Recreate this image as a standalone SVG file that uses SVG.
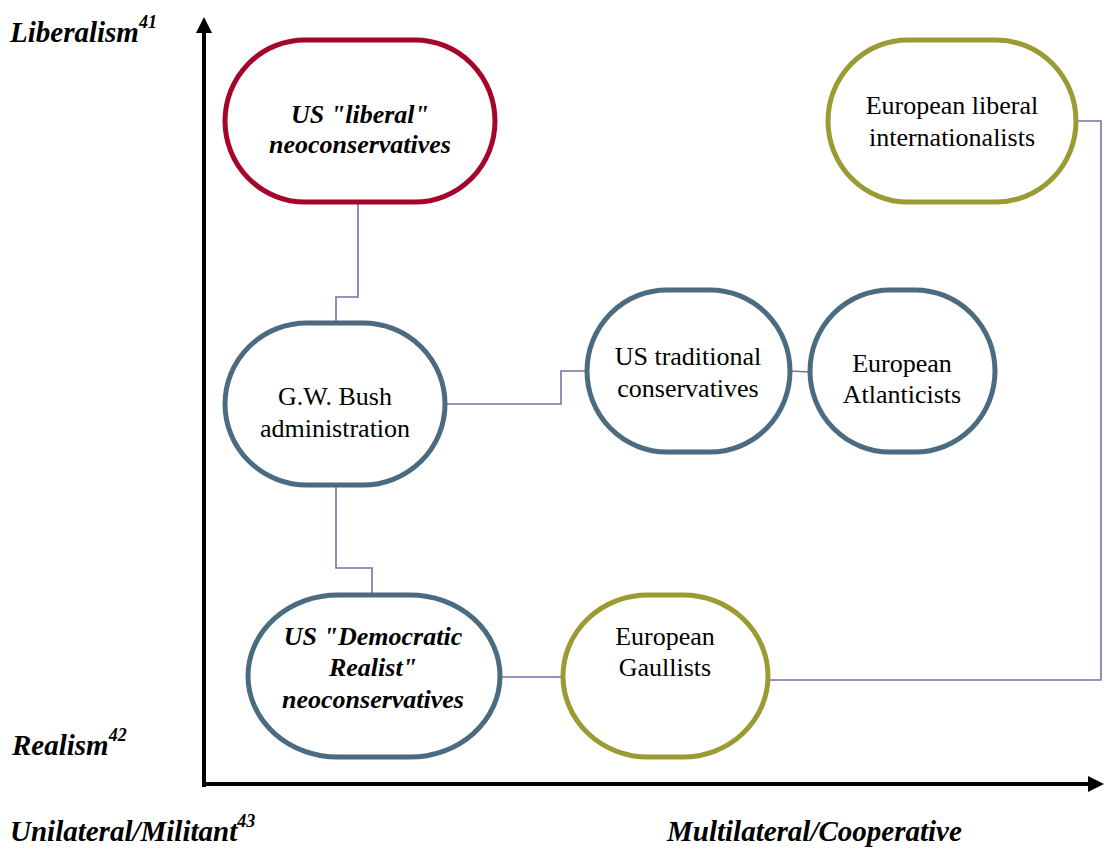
<svg xmlns="http://www.w3.org/2000/svg" width="1104" height="849" viewBox="0 0 1104 849">
<style>
.node{fill:#fff;stroke-width:5}
.red{stroke:#A5052A}
.blue{stroke:#4B6B80}
.olive{stroke:#9C9A33}
.t{font-family:"Liberation Serif","Times New Roman",serif;font-size:26px;fill:#000;text-anchor:middle}
.bi{font-weight:bold;font-style:italic}
.ax{font-family:"Liberation Serif","Times New Roman",serif;font-size:29px;font-weight:bold;font-style:italic;fill:#000}
.sup{font-size:18px}
.conn{fill:none;stroke:#7472A8;stroke-width:1.6}
</style>
<rect width="1104" height="849" fill="#fff"/>
<g id="axes">
<line x1="204" y1="787" x2="204" y2="30" stroke="#000" stroke-width="4"/>
<polygon points="204,17 196,33 212,33" fill="#000"/>
<line x1="202" y1="784" x2="1090" y2="784" stroke="#000" stroke-width="4"/>
<polygon points="1104,784 1088,776 1088,792" fill="#000"/>
</g>
<g id="axis-labels">
<text class="ax" x="10" y="42">Liberalism<tspan class="sup" dy="-14">41</tspan></text>
<text class="ax" x="12" y="755">Realism<tspan class="sup" dy="-14">42</tspan></text>
<text class="ax" x="10" y="841">Unilateral/Militant<tspan class="sup" dy="-14">43</tspan></text>
<text class="ax" x="667" y="841">Multilateral/Cooperative</text>
</g>
<g id="connectors">
<polyline class="conn" points="358,202 358,297 336,297 336,323"/>
<polyline class="conn" points="445,404 561,404 561,371 587,371"/>
<polyline class="conn" points="336,485 336,568 372,568 372,595"/>
<polyline class="conn" points="790,371 810,372"/>
<polyline class="conn" points="500,677 563,677"/>
<polyline class="conn" points="768,680 1101,680 1101,121 1076,121"/>
</g>
<g id="us-liberal-neocons">
<rect class="node red" x="225" y="40" width="270" height="162" rx="80" ry="81"/>
<text class="t bi" x="360" y="123">US "liberal"</text>
<text class="t bi" x="360" y="153">neoconservatives</text>
</g>
<g id="bush-admin">
<rect class="node blue" x="225" y="323" width="220" height="162" rx="82" ry="81"/>
<text class="t" x="335" y="405">G.W. Bush</text>
<text class="t" x="335" y="437">administration</text>
</g>
<g id="us-traditional">
<rect class="node blue" x="587" y="290" width="203" height="162" rx="80" ry="81"/>
<text class="t" x="688" y="365">US traditional</text>
<text class="t" x="688" y="397">conservatives</text>
</g>
<g id="eu-atlanticists">
<rect class="node blue" x="810" y="290" width="185" height="162" rx="80" ry="81"/>
<text class="t" x="902" y="372">European</text>
<text class="t" x="902" y="403">Atlanticists</text>
</g>
<g id="eu-liberal-internationalists">
<rect class="node olive" x="828" y="40" width="248" height="162" rx="80" ry="81"/>
<text class="t" x="952" y="114">European liberal</text>
<text class="t" x="952" y="146">internationalists</text>
</g>
<g id="us-democratic-realist">
<rect class="node blue" x="248" y="595" width="252" height="162" rx="90" ry="81"/>
<text class="t bi" x="373" y="645">US "Democratic</text>
<text class="t bi" x="373" y="676">Realist"</text>
<text class="t bi" x="373" y="708">neoconservatives</text>
</g>
<g id="eu-gaullists">
<rect class="node olive" x="563" y="595" width="205" height="162" rx="85" ry="81"/>
<text class="t" x="665" y="645">European</text>
<text class="t" x="665" y="676">Gaullists</text>
</g>
</svg>
